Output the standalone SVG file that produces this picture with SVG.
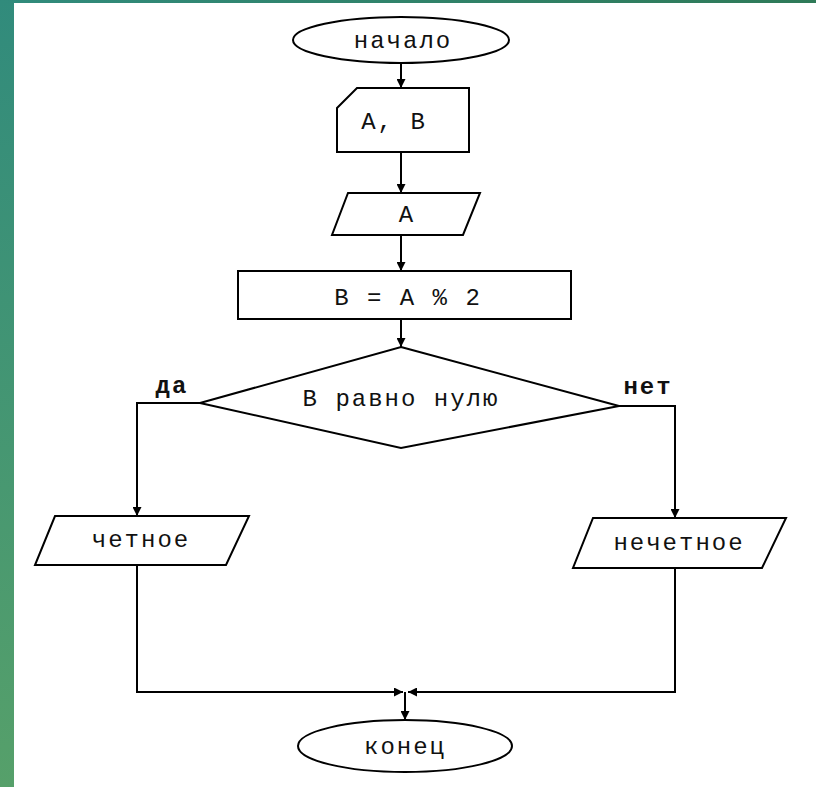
<svg xmlns="http://www.w3.org/2000/svg" width="816" height="787" viewBox="0 0 816 787">
<style>
.s{fill:#fff;stroke:#000;stroke-width:2}
.c{fill:none;stroke:#000;stroke-width:2}
.t{font-family:"Liberation Mono",monospace;font-size:24px;fill:#111;text-anchor:middle;letter-spacing:2px}
.b{font-family:"Liberation Mono",monospace;font-size:24px;font-weight:bold;fill:#111;text-anchor:middle;letter-spacing:2px}
</style>
<defs>
<linearGradient id="gl" x1="0" y1="0" x2="0" y2="1"><stop offset="0" stop-color="#318b7c"/><stop offset="1" stop-color="#56a06a"/></linearGradient>
<linearGradient id="gt" x1="0" y1="0" x2="1" y2="0"><stop offset="0" stop-color="#318b7c"/><stop offset="1" stop-color="#2f7a58"/></linearGradient>
<marker id="ar" viewBox="0 0 10 10" refX="10" refY="5" markerWidth="9" markerHeight="9" markerUnits="userSpaceOnUse" orient="auto"><path d="M0,0 L10,5 L0,10 z" fill="#000"/></marker>
</defs>
<rect x="0" y="0" width="816" height="787" fill="#fff"/>
<rect x="0" y="0" width="14" height="787" fill="url(#gl)"/>
<rect x="0" y="0" width="816" height="3" fill="url(#gt)"/>
<g id="connectors">
<path class="c" d="M401,63 V88" marker-end="url(#ar)"/>
<path class="c" d="M401,152 V193" marker-end="url(#ar)"/>
<path class="c" d="M401,235 V271" marker-end="url(#ar)"/>
<path class="c" d="M401,319 V347" marker-end="url(#ar)"/>
<path class="c" d="M200,403 H137 V516" marker-end="url(#ar)"/>
<path class="c" d="M619,406 H675 V518" marker-end="url(#ar)"/>
<path class="c" d="M137,565 V692 H403" marker-end="url(#ar)"/>
<path class="c" d="M675,568 V692 H408" marker-end="url(#ar)"/>
<path class="c" d="M405,692 V720" marker-end="url(#ar)"/>
</g>
<g id="start">
<ellipse class="s" cx="401" cy="40" rx="108" ry="23"/>
<text class="t" x="403" y="48" letter-spacing="3">начало</text>
</g>
<g id="input">
<polygon class="s" points="337,108 357,88 469,88 469,152 337,152"/>
<text class="t" x="394" y="129" letter-spacing="0">A, B</text>
</g>
<g id="outputA">
<polygon class="s" points="348,193 480,193 463,235 332,235"/>
<text class="t" x="407" y="222">A</text>
</g>
<g id="process">
<rect class="s" x="238" y="271" width="333" height="48"/>
<text class="t" x="408" y="305">B = A % 2</text>
</g>
<g id="decision">
<polygon class="s" points="401,347 619,406 401,448 200,403"/>
<text class="t" x="401" y="406">В равно нулю</text>
<text class="b" x="172" y="393">да</text>
<text class="b" x="648" y="394">нет</text>
</g>
<g id="even">
<polygon class="s" points="55,516 249,516 226,565 35,565"/>
<text class="t" x="141" y="547">четное</text>
</g>
<g id="odd">
<polygon class="s" points="593,518 786,518 762,568 573,568"/>
<text class="t" x="679" y="550">нечетное</text>
</g>
<g id="end">
<ellipse class="s" cx="405" cy="746" rx="107" ry="26"/>
<text class="t" x="405" y="754">конец</text>
</g>
</svg>
